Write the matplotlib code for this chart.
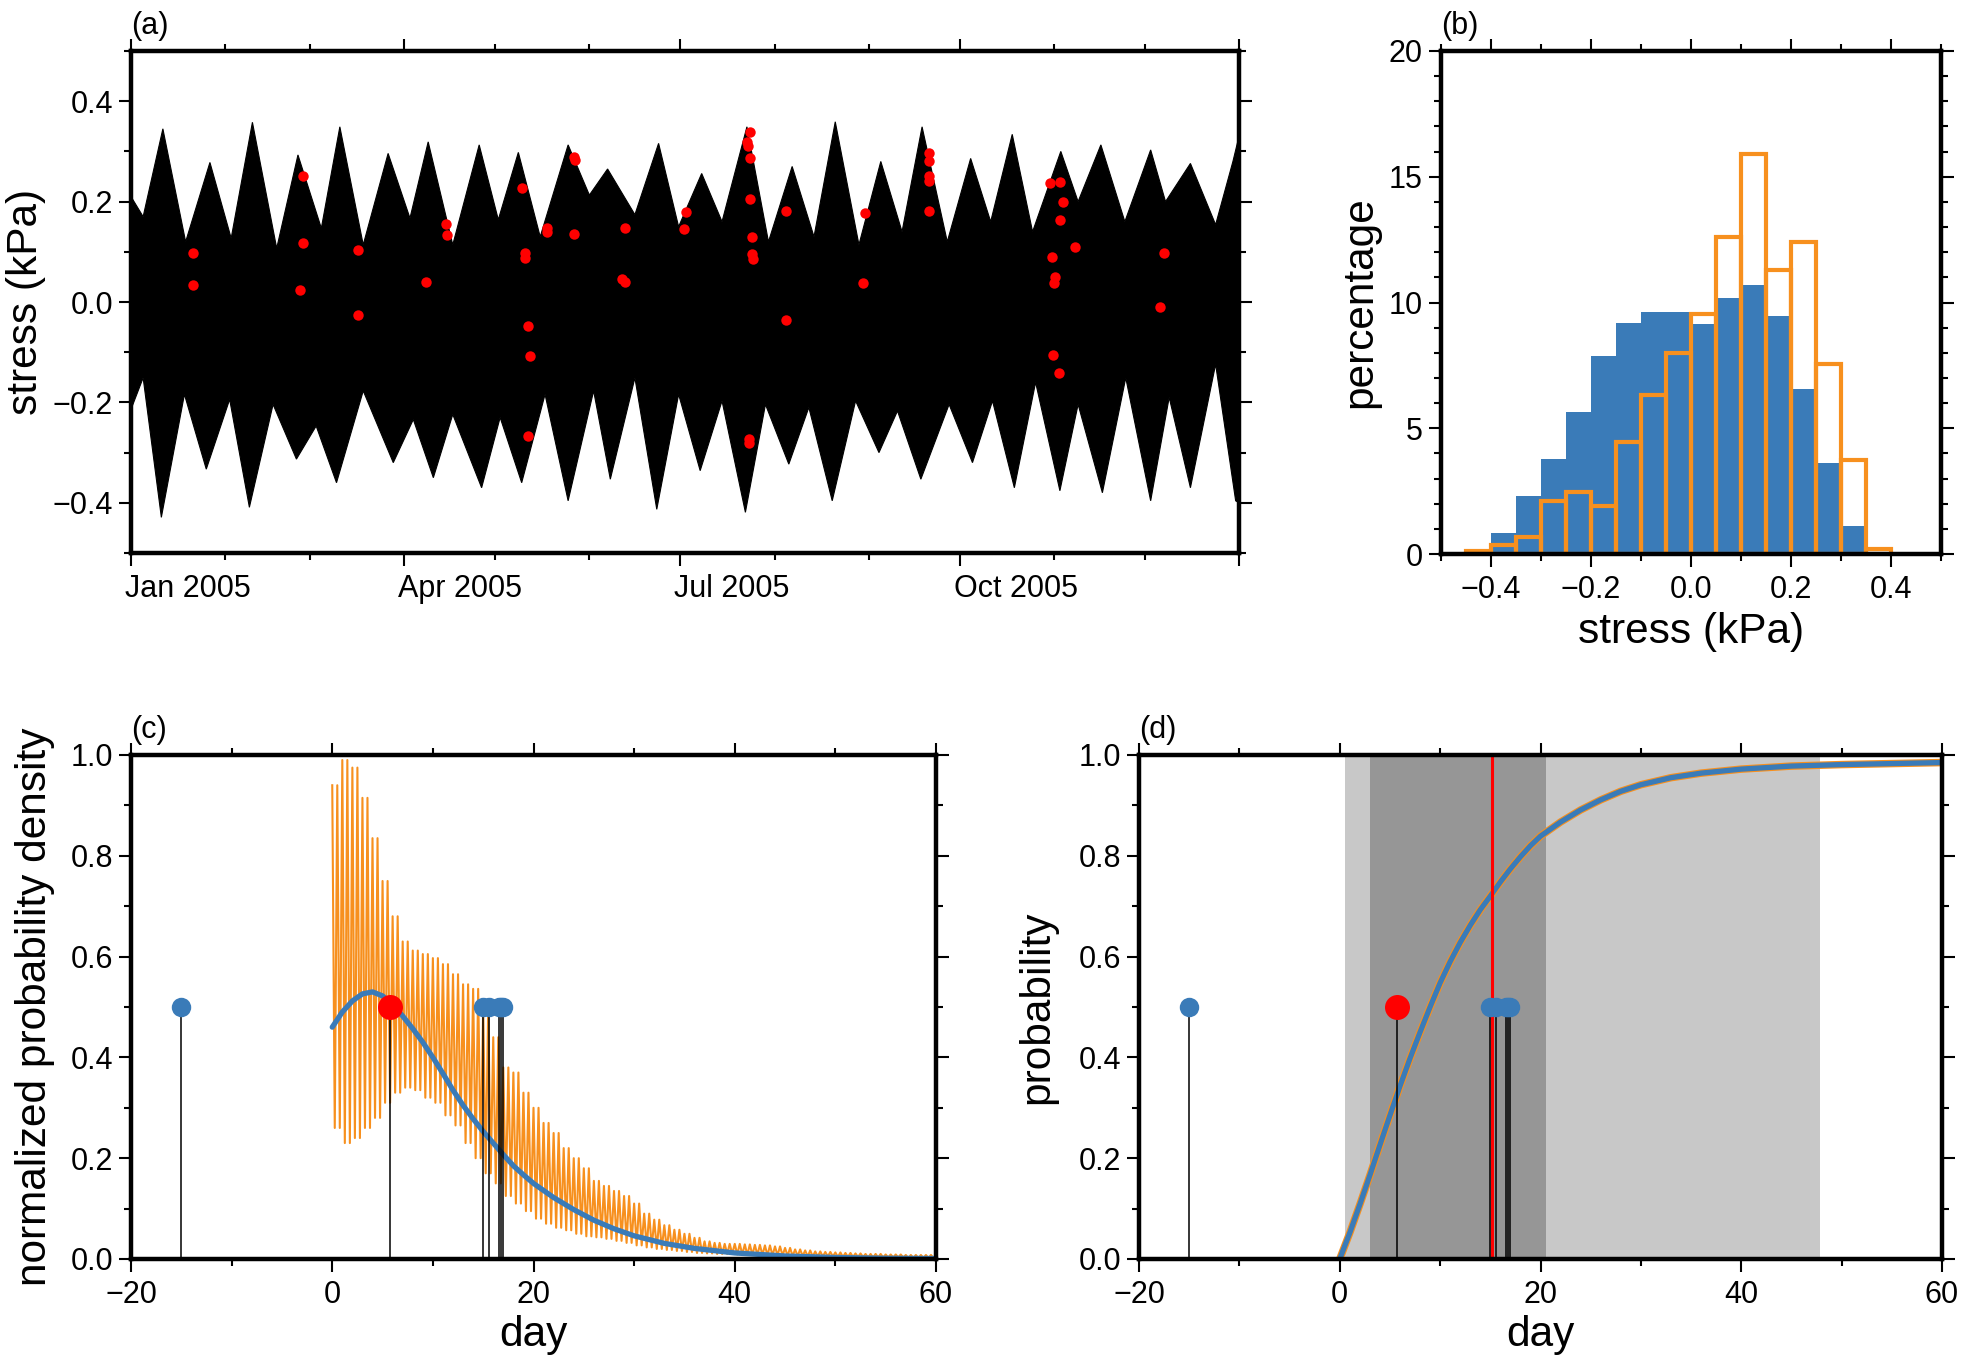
import numpy as np
import matplotlib
matplotlib.use('Agg')
import matplotlib.pyplot as plt
import matplotlib.dates as mdates
import matplotlib.transforms as mtransforms
from matplotlib.ticker import MultipleLocator, FuncFormatter

plt.rcParams['font.family'] = ['Liberation Sans', 'DejaVu Sans']
plt.rcParams['axes.unicode_minus'] = True

# colores
azul = '#3a7bb8'
naranja = '#f7901e'
rojo = '#ff0000'
gris_claro = '#c8c8c8'
gris_oscuro = '#969696'

# ------------------------------------------------------------------------------------------ #
# (a) esfuerzo de marea: envolvente superior e inferior (dia del anio 2005, kPa)
t_sup = [0, 4, 10.5, 18, 26, 33, 40, 48, 55, 62.7, 68.8, 76.5, 84.7, 91.9, 97.9, 106, 114.7,
         121, 127.6, 134.8, 144, 151, 157, 166, 173.8, 180.4, 188, 194.7, 202.9, 210, 217.8,
         225, 232, 239.8, 247, 254, 260.6, 268.9, 276.6, 283.2, 290.3, 297, 306.3, 312,
         319.5, 327.4, 335.9, 340.8, 349, 357.3, 363, 365]
s_sup = [0.21, 0.17, 0.345, 0.12, 0.278, 0.127, 0.358, 0.107, 0.293, 0.147, 0.349, 0.114,
         0.296, 0.167, 0.319, 0.114, 0.313, 0.164, 0.298, 0.13, 0.313, 0.213, 0.265, 0.174,
         0.316, 0.15, 0.256, 0.16, 0.349, 0.12, 0.27, 0.13, 0.359, 0.114, 0.28, 0.14, 0.349,
         0.12, 0.286, 0.16, 0.334, 0.14, 0.30, 0.2, 0.313, 0.16, 0.303, 0.2, 0.276, 0.154,
         0.28, 0.33]
t_inf = [0, 4, 10, 17.6, 24.8, 32.5, 39, 46.8, 54.5, 61, 67.7, 76.5, 86.4, 93, 99.6, 106,
         115.5, 121.6, 128.7, 136.4, 144, 152.4, 157.9, 166, 173.2, 180.4, 187.5, 194.7,
         202.4, 209, 216.7, 223.3, 231, 238.7, 246.4, 252.5, 260.2, 269.5, 277.2, 283.8, 291,
         298, 306, 312, 320, 327.7, 335.9, 342, 349, 357.3, 363.9, 365]
s_inf = [-0.214, -0.151, -0.429, -0.184, -0.333, -0.194, -0.409, -0.204, -0.313, -0.247,
         -0.36, -0.177, -0.32, -0.234, -0.35, -0.224, -0.37, -0.23, -0.36, -0.184, -0.396,
         -0.177, -0.353, -0.151, -0.413, -0.184, -0.336, -0.197, -0.419, -0.204, -0.323,
         -0.21, -0.396, -0.197, -0.3, -0.217, -0.353, -0.204, -0.32, -0.197, -0.37, -0.16,
         -0.376, -0.204, -0.38, -0.151, -0.396, -0.19, -0.37, -0.124, -0.396, -0.40]

# sismos: dia del anio y esfuerzo al momento del evento
t_sismos = [20.5, 20.5, 56.8, 56.8, 55.8, 74.8, 74.8, 97.1, 103.7, 104.1, 128.8, 129.7, 129.9,
            130.7, 131.6, 130.7, 137.0, 137.0, 146.0, 146.1, 145.8, 162.8, 161.9, 162.6,
            182.8, 182.3, 204.0, 203.0, 203.3, 204.0, 204.0, 204.5, 204.5, 204.8, 203.7,
            203.7, 215.7, 215.7, 241.9, 241.1, 262.9, 262.9, 262.9, 262.9, 262.9, 302.8,
            306.0, 306.9, 306.0, 311.1, 303.4, 304.3, 303.9, 303.6, 305.8, 340.2, 339.1]
s_sismos = [0.097, 0.033, 0.251, 0.117, 0.023, 0.104, -0.025, 0.040, 0.155, 0.134, 0.228,
            0.097, 0.087, -0.048, -0.108, -0.267, 0.148, 0.140, 0.288, 0.283, 0.135, 0.147,
            0.046, 0.040, 0.179, 0.146, 0.339, 0.318, 0.311, 0.286, 0.205, 0.129, 0.096,
            0.085, -0.272, -0.281, 0.182, -0.035, 0.178, 0.038, 0.296, 0.281, 0.250, 0.241,
            0.182, 0.238, 0.240, 0.200, 0.163, 0.110, 0.089, 0.050, 0.037, -0.105, -0.141,
            0.097, -0.010]

# ------------------------------------------------------------------------------------------ #
# (b) histogramas (porcentaje por intervalo de 0.05 kPa, borde izquierdo)
bin_izq = [-0.45, -0.40, -0.35, -0.30, -0.25, -0.20, -0.15, -0.10, -0.05, 0.00, 0.05, 0.10,
           0.15, 0.20, 0.25, 0.30, 0.35]
pct_todos = [0, 0.82, 2.30, 3.77, 5.65, 7.88, 9.20, 9.61, 9.62, 9.14, 10.19, 10.70, 9.47,
             6.57, 3.62, 1.10, 0]
pct_sismos = [0.12, 0.36, 0.69, 2.09, 2.47, 1.89, 4.46, 6.32, 7.98, 9.55, 12.6, 15.9, 11.3,
              12.4, 7.56, 3.75, 0.2]

# ------------------------------------------------------------------------------------------ #
# (c) densidad: curva suave y extremos diarios de la curva con marea
dias_suave = [0, 1, 2, 3, 4, 5, 6, 7, 8, 9, 10, 11, 12, 13, 14, 15, 16, 17, 18, 19, 20, 22,
              24, 26, 28, 30, 33, 36, 40, 45, 50, 55, 60]
dens_suave = [0.46, 0.49, 0.512, 0.526, 0.53, 0.522, 0.505, 0.482, 0.457, 0.43, 0.40, 0.368,
              0.335, 0.305, 0.278, 0.253, 0.23, 0.207, 0.185, 0.167, 0.15, 0.122, 0.098,
              0.077, 0.06, 0.046, 0.031, 0.021, 0.012, 0.006, 0.003, 0.0015, 0.001]
dias_marea = list(range(0, 61))
dens_max = [0.94, 0.99, 0.975, 0.915, 0.835, 0.75, 0.68, 0.63, 0.612, 0.605, 0.597, 0.585,
            0.565, 0.545, 0.536, 0.50, 0.44, 0.38, 0.37, 0.33, 0.30, 0.27, 0.25, 0.22, 0.20,
            0.18, 0.155, 0.145, 0.135, 0.125, 0.11, 0.09, 0.078, 0.067, 0.058, 0.05, 0.042,
            0.035, 0.032, 0.03, 0.03, 0.029, 0.028, 0.027, 0.025, 0.022, 0.019, 0.017, 0.015,
            0.014, 0.013, 0.012, 0.011, 0.010, 0.010, 0.009, 0.009, 0.008, 0.008, 0.008,
            0.007]
dens_min = [0.26, 0.23, 0.24, 0.26, 0.28, 0.31, 0.33, 0.34, 0.335, 0.32, 0.31, 0.285, 0.265,
            0.23, 0.20, 0.17, 0.15, 0.125, 0.11, 0.095, 0.08, 0.07, 0.062, 0.057, 0.05, 0.045,
            0.043, 0.04, 0.036, 0.032, 0.027, 0.023, 0.02, 0.018, 0.016, 0.014, 0.012, 0.011,
            0.010, 0.010, 0.009, 0.008, 0.008, 0.007, 0.007, 0.006, 0.006, 0.005, 0.005,
            0.005, 0.004, 0.004, 0.004, 0.003, 0.003, 0.003, 0.003, 0.002, 0.002, 0.002,
            0.002]

# (d) probabilidad acumulada
dias_acum = [0, 1, 2, 3, 4, 5, 6, 7, 8, 9, 10, 11, 12, 13, 14, 15, 16, 17, 18, 19, 20, 22,
             24, 26, 28, 30, 33, 36, 40, 45, 50, 55, 60]
prob_acum = [0.0, 0.052, 0.108, 0.166, 0.226, 0.285, 0.343, 0.398, 0.45, 0.5, 0.548, 0.59,
             0.628, 0.662, 0.693, 0.72, 0.748, 0.774, 0.798, 0.82, 0.839, 0.867, 0.891,
             0.911, 0.928, 0.941, 0.955, 0.964, 0.972, 0.978, 0.981, 0.983, 0.985]
# intervalos sombreados (dias)
int_claro = (0.5, 47.8)
int_oscuro = (3.0, 20.55)
dia_principal = 15.2

# eventos (dias relativos)
dias_azules = [-15.0, 15.0, 15.6, 16.53, 16.78, 17.0]
dia_rojo = 5.75
altura_marca = 0.5

# ------------------------------------------------------------------------------------------ #
W, H = 1961, 1357
fig = plt.figure(figsize=(W / 100, H / 100), dpi=100)
tam_num = 22
tam_eje = 30.5


def caja(x0, y0, x1, y1):
    return fig.add_axes([x0 / W, 1 - y1 / H, (x1 - x0) / W, (y1 - y0) / H])


def estilo(ax, letra):
    for sp in ax.spines.values():
        sp.set_linewidth(3.2)
        sp.set_zorder(5)
    ax.tick_params(which='both', direction='out', top=True, right=True, width=1.5,
                   labelsize=tam_num, pad=4)
    ax.tick_params(axis='x', which='both', pad=6)
    ax.tick_params(which='major', length=9)
    ax.tick_params(which='minor', length=5)
    ax.annotate(letra, xy=(0, 1), xycoords='axes fraction', xytext=(0, 12),
                textcoords='offset points', ha='left', va='baseline', fontsize=tam_num)


ax_a = caja(131, 51, 1239, 553)
ax_b = caja(1441, 51, 1941, 554)
ax_c = caja(131, 755, 936, 1259)
ax_d = caja(1139, 755, 1942, 1259)

# ---- (a) ----
t0 = mdates.date2num(np.datetime64('2005-01-01'))
x_poly = np.concatenate([t0 + np.array(t_sup), (t0 + np.array(t_inf))[::-1]])
y_poly = np.concatenate([s_sup, np.array(s_inf)[::-1]])
ax_a.fill(x_poly, y_poly, color='black', lw=0.8)
ax_a.plot(t0 + np.array(t_sismos), s_sismos, 'o', color=rojo, ms=7.5, mec='none', zorder=4)
ax_a.set_xlim(t0, mdates.date2num(np.datetime64('2006-01-01')))
ax_a.set_ylim(-0.5, 0.5)
ax_a.xaxis_date()
ax_a.xaxis.set_major_locator(mdates.MonthLocator(bymonth=[1, 4, 7, 10]))
ax_a.xaxis.set_minor_locator(mdates.MonthLocator())
ax_a.xaxis.set_major_formatter(FuncFormatter(
    lambda x, pos: mdates.num2date(x).strftime('%b %Y') if mdates.num2date(x).year == 2005
    else ''))
ax_a.yaxis.set_major_locator(MultipleLocator(0.2))
ax_a.yaxis.set_minor_locator(MultipleLocator(0.1))
ax_a.yaxis.set_major_formatter(FuncFormatter(lambda v, pos: f'{v:.1f}'.replace('-', '\u2212')))
ax_a.set_ylabel('stress (kPa)', fontsize=tam_eje, labelpad=5)
estilo(ax_a, '(a)')
desplazar = mtransforms.ScaledTranslation(-6 / 100, 0, fig.dpi_scale_trans)
for lab in ax_a.get_xticklabels():
    lab.set_ha('left')
    lab.set_transform(lab.get_transform() + desplazar)

# ---- (b) ----
ax_b.bar(bin_izq, pct_todos, width=0.05, align='edge', color=azul, lw=0, zorder=1)
ax_b.bar(bin_izq, pct_sismos, width=0.05, align='edge', fill=False, edgecolor=naranja,
         lw=3, zorder=2)
ax_b.set_xlim(-0.5, 0.5)
ax_b.set_ylim(0, 20)
ax_b.xaxis.set_major_locator(MultipleLocator(0.2))
ax_b.xaxis.set_minor_locator(MultipleLocator(0.1))
ax_b.yaxis.set_major_locator(MultipleLocator(5))
ax_b.yaxis.set_minor_locator(MultipleLocator(1))
ax_b.xaxis.set_major_formatter(FuncFormatter(
    lambda v, pos: '' if abs(v) > 0.45 else f'{v:.1f}'.replace('-', '\u2212')))
ax_b.set_xlabel('stress (kPa)', fontsize=tam_eje, labelpad=5)
ax_b.set_ylabel('percentage', fontsize=tam_eje, labelpad=6)
estilo(ax_b, '(b)')

# ---- (c) ----
x_zz, y_zz = [], []
for d, pmax, pmin in zip(dias_marea[:-1], dens_max[:-1], dens_min[:-1]):
    for k in (0.0, 0.5):
        x_zz += [d + k, d + k + 0.25]
        y_zz += [pmax, pmin]
x_zz.append(dias_marea[-1])
y_zz.append(dens_max[-1])
ax_c.plot(x_zz, y_zz, color=naranja, lw=1.5, zorder=2)
ax_c.plot(dias_suave, dens_suave, color=azul, lw=3.8, solid_capstyle='round', zorder=3)

# ---- (d) ----
ax_d.axvspan(*int_claro, color=gris_claro, lw=0, zorder=0)
ax_d.axvspan(*int_oscuro, color=gris_oscuro, lw=0, zorder=0)
ax_d.plot(dias_acum, prob_acum, color=naranja, lw=5.4, zorder=2)
ax_d.plot(dias_acum, prob_acum, color=azul, lw=3.8, zorder=3)
ax_d.axvline(dia_principal, color=rojo, lw=2.2, zorder=4)

for ax in (ax_c, ax_d):
    ax.vlines(dias_azules + [dia_rojo], 0, altura_marca, color='black', lw=1.1, zorder=4)
    ax.plot(dias_azules, [altura_marca] * len(dias_azules), 'o', color=azul, ms=14,
            mec='none', zorder=6)
    ax.plot([dia_rojo], [altura_marca], 'o', color=rojo, ms=18, mec='none', zorder=6)
    ax.set_xlim(-20, 60)
    ax.set_ylim(0, 1)
    ax.xaxis.set_major_locator(MultipleLocator(20))
    ax.xaxis.set_minor_locator(MultipleLocator(10))
    ax.yaxis.set_major_locator(MultipleLocator(0.2))
    ax.yaxis.set_minor_locator(MultipleLocator(0.1))
    ax.yaxis.set_major_formatter(FuncFormatter(lambda v, pos: f'{v:.1f}'))
    ax.set_xlabel('day', fontsize=tam_eje, labelpad=4)

ax_c.set_ylabel('normalized probability density', fontsize=tam_eje, labelpad=11)
ax_d.set_ylabel('probability', fontsize=tam_eje, labelpad=15)
estilo(ax_c, '(c)')
estilo(ax_d, '(d)')

fig.savefig('out.png', dpi=100)
